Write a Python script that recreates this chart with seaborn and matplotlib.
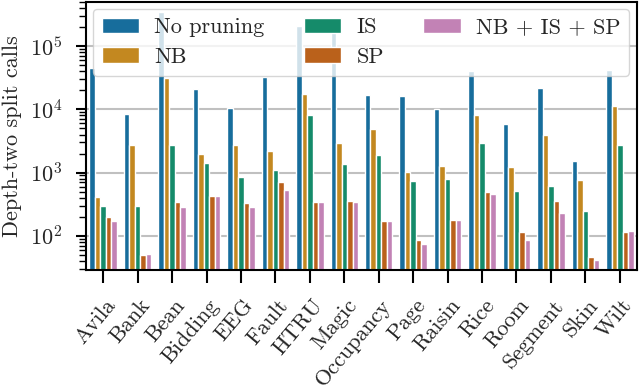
import matplotlib
matplotlib.use("Agg")
import matplotlib.pyplot as plt
import matplotlib.transforms as mtransforms
import seaborn as sns
import pandas as pd

datasets = ["Avila", "Bank", "Bean", "Bidding", "EEG", "Fault", "HTRU", "Magic",
            "Occupancy", "Page", "Raisin", "Rice", "Room", "Segment", "Skin", "Wilt"]
methods = ["No pruning", "NB", "IS", "SP", "NB + IS + SP"]

no_pruning = [45000, 8400, 352000, 20900, 10600, 32800, 205000, 171000,
              16800, 16500, 10300, 40400, 5800, 21700, 1520, 41300]
nb = [407, 2710, 31300, 2000, 2710, 2180, 17800, 2950,
      4870, 1010, 1290, 8050, 1220, 3910, 750, 11300]
is_ = [300, 300, 2710, 1440, 840, 1080, 8140, 1370,
       1930, 743, 800, 2890, 502, 618, 250, 2710]
sp = [196, 49, 339, 433, 335, 698, 344, 357,
      171, 85, 175, 484, 115, 361, 46, 115]
nb_is_sp = [169, 52, 290, 418, 290, 526, 344, 344,
            171, 73, 175, 466, 86, 230, 42, 117]

series = [no_pruning, nb, is_, sp, nb_is_sp]
rows = []
for m, vals in zip(methods, series):
    for d, v in zip(datasets, vals):
        rows.append({"Dataset": d, "Method": m, "Calls": v})
df = pd.DataFrame(rows)

sns.set_style("ticks")
plt.rcParams["font.family"] = ["cmr10", "DejaVu Serif"]
plt.rcParams["mathtext.fontset"] = "cm"
plt.rcParams["axes.formatter.use_mathtext"] = True
plt.rcParams["font.size"] = 16
plt.rcParams["axes.linewidth"] = 1.5
plt.rcParams["axes.edgecolor"] = "black"

FS = 16

fig = plt.figure(figsize=(6.4, 3.87), dpi=100)
ax = fig.add_axes([86 / 640, 1 - 270 / 387, (637 - 86) / 640, (270 - 2) / 387])

sns.barplot(data=df, x="Dataset", y="Calls", hue="Method", order=datasets,
            hue_order=methods, palette="colorblind", ax=ax, log_scale=(False, True))

ax.set_yscale("log")
ax.set_ylim(28.7, 5.0e5)
ax.set_xlim(-0.5, 15.5)
ax.set_xlabel("")
ax.set_ylabel("Depth-two split calls", fontsize=FS, labelpad=6)
ax.yaxis.grid(True, which="major", color="#c0c0c0", linewidth=1.5)
ax.xaxis.grid(False)
ax.set_axisbelow(True)
for s in ax.spines.values():
    s.set_visible(True)
    s.set_color("black")
    s.set_linewidth(1.5)

ax.tick_params(axis="y", which="major", length=7, width=1.5, labelsize=FS,
               color="black", pad=10)
ax.tick_params(axis="y", which="minor", length=5, width=1.0, color="black")
ax.tick_params(axis="x", which="major", length=9, width=1.5, labelsize=FS,
               color="black", pad=14)
offset = mtransforms.ScaledTranslation(0.09, 0, fig.dpi_scale_trans)
for lab in ax.get_xticklabels():
    lab.set_rotation(50)
    lab.set_ha("right")
    lab.set_va("center")
    lab.set_rotation_mode("anchor")
    lab.set_transform(lab.get_transform() + offset)

sns.move_legend(ax, "upper left", ncol=3, title=None, frameon=True, fontsize=FS,
                borderaxespad=0.3, fancybox=True, framealpha=0.8,
                handlelength=1.7, handletextpad=0.68, columnspacing=1.75,
                labelspacing=0.45)

fig.savefig("out.png", dpi=100)
